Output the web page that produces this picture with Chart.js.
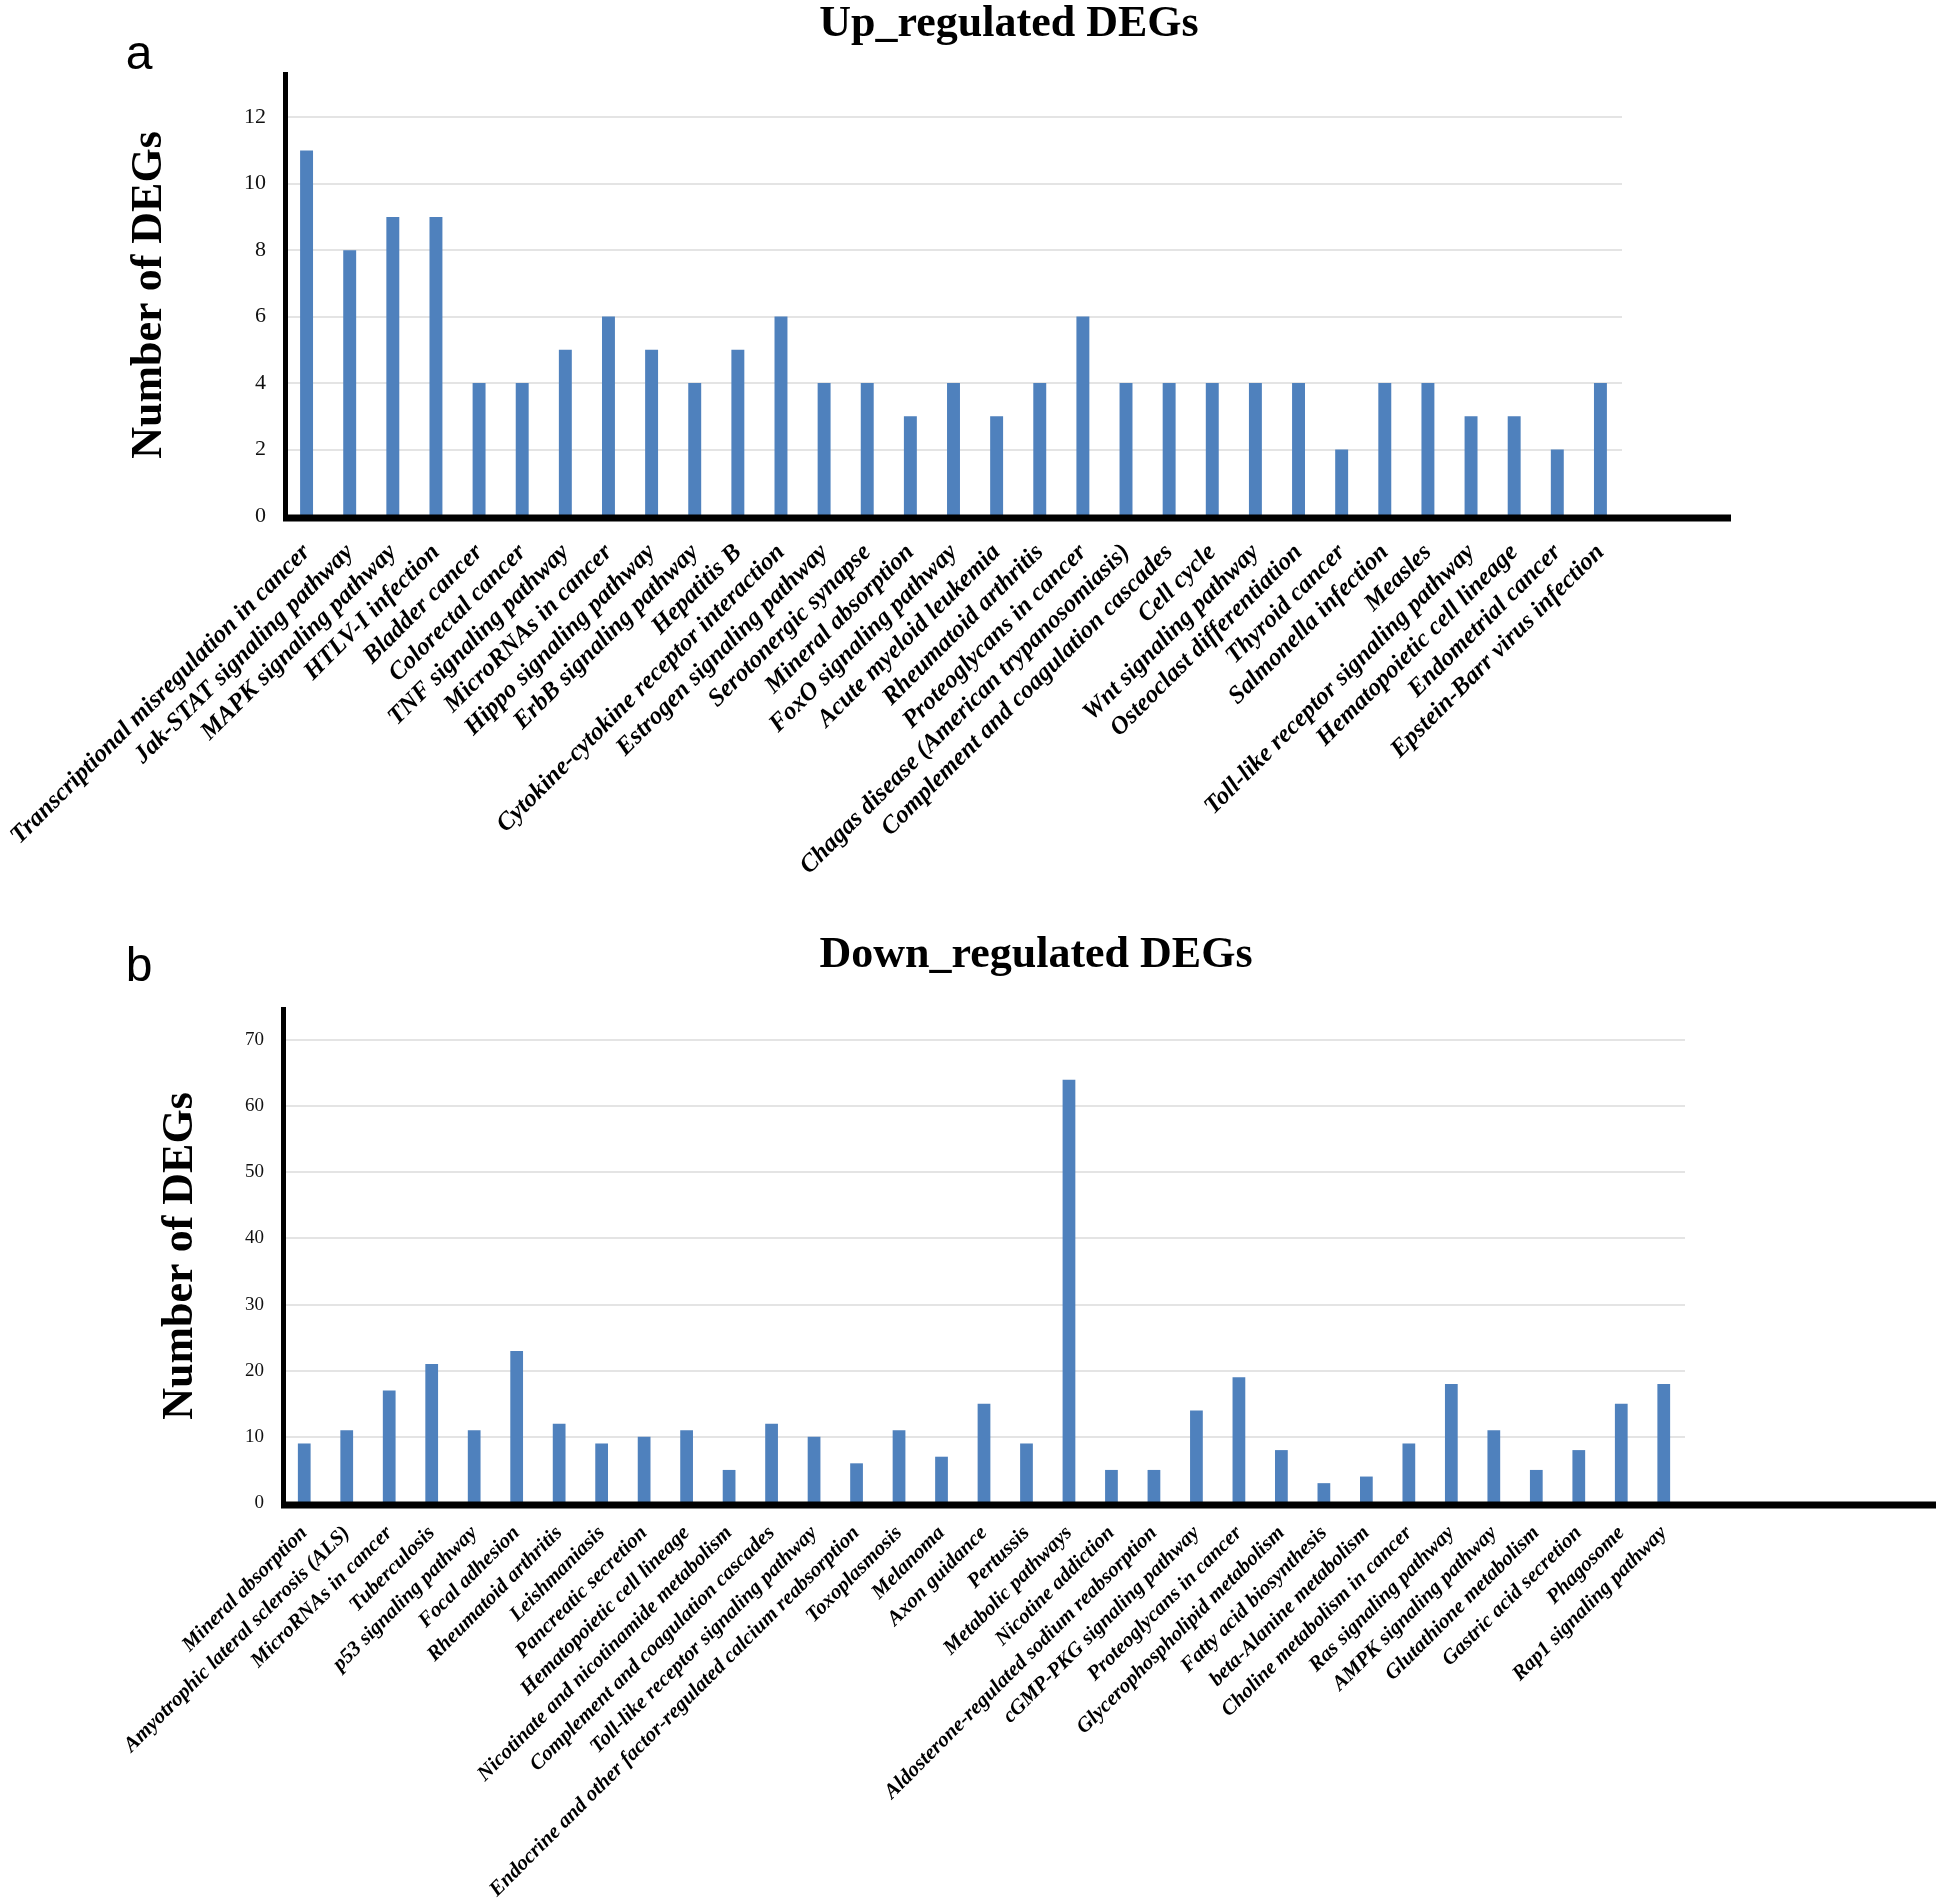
<!DOCTYPE html>
<html>
<head>
<meta charset="utf-8">
<script src="https://cdn.jsdelivr.net/npm/chart.js@4.4.0/dist/chart.umd.min.js"></script>
<style>
  html, body { margin: 0; padding: 0; background: #fff; overflow: hidden; }
  .panel { position: absolute; left: 0; }
</style>
</head>
<body>
<div class="panel" style="top:0"><canvas id="up" width="1946" height="920"></canvas></div>
<div class="panel" style="top:920px"><canvas id="down" width="1946" height="982"></canvas></div>
<script>
// Up-regulated KEGG pathways
const upPathways = [
  "Transcriptional misregulation in cancer", "Jak-STAT signaling pathway", "MAPK signaling pathway",
  "HTLV-I infection", "Bladder cancer", "Colorectal cancer", "TNF signaling pathway",
  "MicroRNAs in cancer", "Hippo signaling pathway", "ErbB signaling pathway", "Hepatitis B",
  "Cytokine-cytokine receptor interaction", "Estrogen signaling pathway", "Serotonergic synapse",
  "Mineral absorption", "FoxO signaling pathway", "Acute myeloid leukemia", "Rheumatoid arthritis",
  "Proteoglycans in cancer", "Chagas disease (American trypanosomiasis)",
  "Complement and coagulation cascades", "Cell cycle", "Wnt signaling pathway",
  "Osteoclast differentiation", "Thyroid cancer", "Salmonella infection", "Measles",
  "Toll-like receptor signaling pathway", "Hematopoietic cell lineage", "Endometrial cancer",
  "Epstein-Barr virus infection"
];
const upCounts = [11, 8, 9, 9, 4, 4, 5, 6, 5, 4, 5, 6, 4, 4, 3, 4, 3, 4, 6, 4, 4, 4, 4, 4, 2, 4, 4, 3, 3, 2, 4];
const upTicks = [0, 2, 4, 6, 8, 10, 12];

// Down-regulated KEGG pathways
const downPathways = [
  "Mineral absorption", "Amyotrophic lateral sclerosis (ALS)", "MicroRNAs in cancer", "Tuberculosis",
  "p53 signaling pathway", "Focal adhesion", "Rheumatoid arthritis", "Leishmaniasis",
  "Pancreatic secretion", "Hematopoietic cell lineage", "Nicotinate and nicotinamide metabolism",
  "Complement and coagulation cascades", "Toll-like receptor signaling pathway",
  "Endocrine and other factor-regulated calcium reabsorption", "Toxoplasmosis", "Melanoma",
  "Axon guidance", "Pertussis", "Metabolic pathways", "Nicotine addiction",
  "Aldosterone-regulated sodium reabsorption", "cGMP-PKG signaling pathway", "Proteoglycans in cancer",
  "Glycerophospholipid metabolism", "Fatty acid biosynthesis", "beta-Alanine metabolism",
  "Choline metabolism in cancer", "Ras signaling pathway", "AMPK signaling pathway",
  "Glutathione metabolism", "Gastric acid secretion", "Phagosome", "Rap1 signaling pathway"
];
const downCounts = [9, 11, 17, 21, 11, 23, 12, 9, 10, 11, 5, 12, 10, 6, 11, 7, 15, 9, 64, 5, 5, 14, 19, 8, 3, 4, 9, 18, 11, 5, 8, 15, 18];
const downTicks = [0, 10, 20, 30, 40, 50, 60, 70];

const BAR = '#4f81bd';
const SERIF = '"Liberation Serif", "Times New Roman", serif';

// titles, panel letter and the long x axis line
const decor = {
  id: 'decor',
  afterDraw(chart, args, o) {
    const { ctx, chartArea } = chart;
    ctx.save();
    ctx.strokeStyle = '#000';
    ctx.lineWidth = 7;
    ctx.beginPath();
    ctx.moveTo(chartArea.left - 2, chartArea.bottom + 2);
    ctx.lineTo(chartArea.right + o.axisExtra, chartArea.bottom + 2);
    ctx.stroke();

    ctx.fillStyle = '#000';
    ctx.textAlign = 'center';
    ctx.textBaseline = 'middle';
    ctx.font = 'bold 44px ' + SERIF;
    ctx.fillText(o.title, o.titleX, o.titleY);
    ctx.font = '48px "Liberation Sans", Arial, sans-serif';
    ctx.fillText(o.letter, 139, o.letterY);
    ctx.restore();
  }
};

function makeChart(id, labels, values, ticks, o) {
  return new Chart(document.getElementById(id), {
    type: 'bar',
    data: {
      labels: labels,
      datasets: [{
        data: values,
        backgroundColor: BAR,
        borderWidth: 0,
        barPercentage: 0.3,
        categoryPercentage: 1
      }]
    },
    options: {
      responsive: false,
      animation: false,
      devicePixelRatio: 1,
      layout: { padding: { top: o.padTop, right: o.padRight, bottom: 0, left: 0 } },
      plugins: {
        legend: { display: false },
        tooltip: { enabled: false },
        decor: o
      },
      scales: {
        x: {
          grid: { display: false },
          border: { display: false },
          ticks: {
            autoSkip: false,
            minRotation: 45,
            maxRotation: 45,
            padding: o.labelPad,
            color: '#000',
            font: { family: SERIF, size: o.labelSize, weight: 'bold', style: 'italic' }
          },
          afterFit(s) { s.height = o.xHeight; s.paddingLeft = 0; s.paddingRight = 0; }
        },
        y: {
          min: 0,
          max: o.yMax,
          afterBuildTicks(s) { s.ticks = ticks.map(v => ({ value: v })); },
          grid: {
            drawTicks: false,
            lineWidth: 2,
            color: c => (c.tick && c.tick.value === 0) ? 'rgba(0,0,0,0)' : '#e4e4e4'
          },
          border: { display: true, color: '#000', width: 5 },
          ticks: {
            padding: 19,
            color: '#111',
            font: { family: SERIF, size: o.tickSize }
          },
          title: {
            display: true,
            text: 'Number of DEGs',
            color: '#000',
            padding: { top: o.yTitleX - 26, bottom: 0 },
            font: { family: SERIF, size: 44, weight: 'bold' }
          },
          afterFit(s) { s.width = o.yWidth; }
        }
      }
    },
    plugins: [decor]
  });
}

makeChart('up', upPathways, upCounts, upTicks, {
  title: 'Up_regulated DEGs', titleX: 1009, titleY: 25, letter: 'a', letterY: 56,
  padTop: 74, padRight: 324, xHeight: 404, yWidth: 285, yMax: 13.3,
  yTitleX: 149, tickSize: 22, labelSize: 25, labelPad: 14, axisExtra: 109
});

makeChart('down', downPathways, downCounts, downTicks, {
  title: 'Down_regulated DEGs', titleX: 1036, titleY: 36, letter: 'b', letterY: 48,
  padTop: 89, padRight: 261, xHeight: 399, yWidth: 283, yMax: 74.7,
  yTitleX: 180, tickSize: 19, labelSize: 21, labelPad: 10, axisExtra: 251
});
</script>
</body>
</html>
